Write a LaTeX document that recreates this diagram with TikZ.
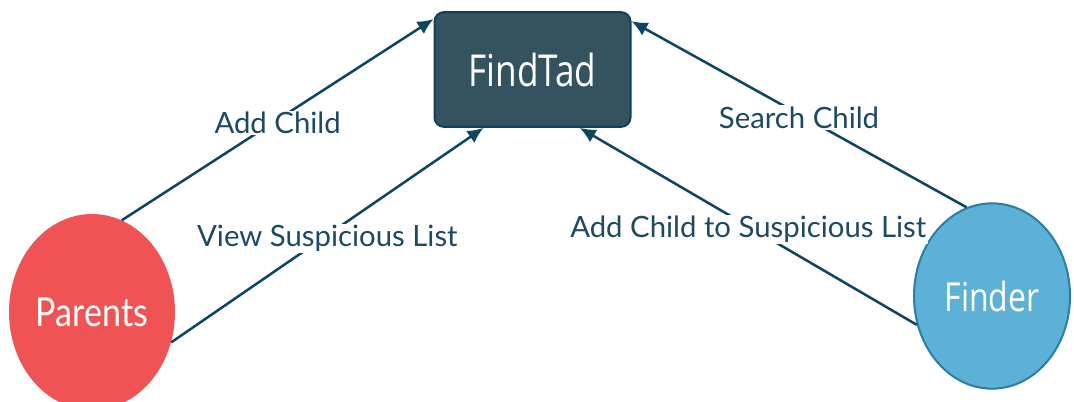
\documentclass[tikz,border=0pt]{standalone}
\usepackage{fontspec}
\setmainfont{Lato}
\newfontfamily\boxfont[FakeStretch=0.8]{Open Sans}
\newfontfamily\parentfont[FakeStretch=0.85]{Lato}
\usetikzlibrary{shapes.geometric, arrows.meta}

\definecolor{tadfill}{HTML}{34525F}
\definecolor{tadline}{HTML}{12405A}
\definecolor{parentfill}{HTML}{F05353}
\definecolor{finderfill}{HTML}{5DB0D6}
\definecolor{finderline}{HTML}{2A7DA6}
\definecolor{linkcol}{HTML}{0E4661}
\definecolor{labelcol}{HTML}{1D4962}

\begin{document}
\begin{tikzpicture}[x=0.75pt, y=-0.75pt,
  actor/.style={ellipse, inner sep=0pt, text=white},
  link/.style={-{Latex[length=12pt, width=11pt]}, line width=1.9pt, draw=linkcol},
  linklabel/.style={fill=white, text=labelcol, inner sep=1pt, yshift=-2.5pt, font=\fontsize{22}{26}\selectfont}]

\useasboundingbox (0,0) rectangle (1074,401);

% System
\node[rectangle, rounded corners=7pt, fill=tadfill, draw=tadline, line width=1.5pt,
      minimum width=147pt, minimum height=86pt, text=white,
      font=\boxfont\fontsize{33}{38}\selectfont] (findtad) at (532.5,69.5) {FindTad};

% Actors
\node[actor, fill=parentfill, minimum width=124.5pt, minimum height=147pt,
      font=\parentfont\fontsize{30}{36}\selectfont] (parents) at (92,312) {Parents};
\node[actor, fill=finderfill, draw=finderline, line width=1.5pt, minimum width=117pt, minimum height=139pt,
      font=\boxfont\fontsize{30}{36}\selectfont] (finder) at (992,296) {Finder};

% Use cases
\draw[link] (parents.72) -- (findtad.153.5) node[linklabel, pos=.5] {Add Child};
\draw[link] (parents.-21) -- (findtad.230.4) node[linklabel, pos=.5] {View Suspicious List};
\draw[link] (finder.201.9) -- (findtad.309.6) node[linklabel, pos=.5] {Add Child to Suspicious List};
\draw[link] (finder.106.9) -- (findtad.26.7) node[linklabel, pos=.5] {Search Child};
\end{tikzpicture}
\end{document}
